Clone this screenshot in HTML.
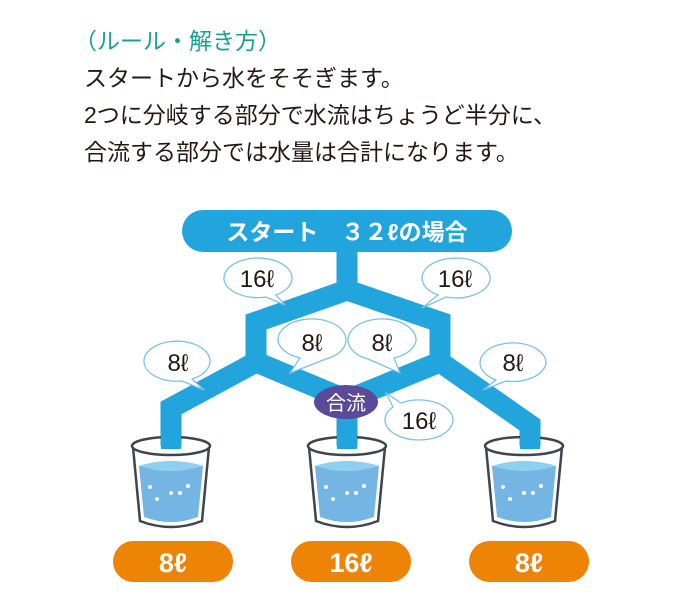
<!DOCTYPE html>
<html><head><meta charset="utf-8"><style>
html,body{margin:0;padding:0;background:#fff;width:700px;height:600px;overflow:hidden}
svg{display:block}
text{font-family:"Liberation Sans","Noto Sans CJK JP",sans-serif}
</style></head><body>
<svg width="700" height="600" viewBox="0 0 700 600">
<g font-size="23">
<text x="74" y="49" fill="#17a196">（ルール・解き方）</text>
<text x="84" y="86" fill="#231815">スタートから水をそそぎます。</text>
<text x="84" y="123" fill="#231815">2つに分岐する部分で水流はちょうど半分に、</text>
<text x="84" y="160" fill="#231815">合流する部分では水量は合計になります。</text>
</g>
<g fill="none" stroke="#22a4dc" stroke-width="21" stroke-linejoin="miter" stroke-miterlimit="10">
<polyline points="347,250 347,290 256,322 256,362 171,408 171,446"/>
<polyline points="347,290 440,322 440,362 530,425 530,446"/>
<polyline points="256,362 347,400 440,362"/>
<line x1="347" y1="400" x2="347" y2="446"/>
</g>
<rect x="182" y="210" width="330" height="42" rx="21" fill="#22a4dc"/>
<text x="347" y="240" font-size="23" font-weight="bold" fill="#fff" text-anchor="middle">スタート　３２ℓの場合</text>
<g fill="#fff" stroke="#7cc0e8" stroke-width="1.3">
<path d="M224,278 a34,20 0 1,1 52,17 L285,305 L266,297 a34,20 0 0,1 -42,-17z"/>
<path d="M490,278 a34,20 0 1,0 -52,17 L422,308 L446,297 a34,20 0 0,0 44,-17z"/>
<path d="M144,362 a33,20 0 1,1 48,17 L204,390 L182,381 a33,20 0 0,1 -38,-19z"/>
<path d="M278,341 a34,21 0 1,1 48,18 L290,373 L300,358 a34,21 0 0,1 -22,-17z"/>
<path d="M416,341 a34,21 0 1,0 -48,18 L400,373 L394,358 a34,21 0 0,0 22,-17z"/>
<path d="M546,363 a33,20 0 1,0 -50,17 L483,390 L506,381 a33,20 0 0,0 40,-18z"/>
<path d="M385,420 a34,20 0 1,0 16,-17 L386,393 L393,407 a34,20 0 0,0 -8,13z"/>
</g>
<g font-size="24" fill="#231815" text-anchor="middle">
<text x="257" y="287">16ℓ</text>
<text x="455" y="287">16ℓ</text>
<text x="178" y="371">8ℓ</text>
<text x="312" y="351">8ℓ</text>
<text x="382" y="351">8ℓ</text>
<text x="513" y="371">8ℓ</text>
<text x="419" y="429">16ℓ</text>
</g>
<ellipse cx="346" cy="402" rx="32" ry="17" fill="#5b4a9a"/>
<text x="346" y="410" font-size="20" fill="#fff" text-anchor="middle">合流</text>
<g>
<g transform="translate(171,0)">
<path d="M-38,447 L-31,521 Q0,533 31,521 L38,447" fill="none" stroke="#3d4650" stroke-width="2.5"/>
<path d="M-32,466 Q0,456 32,466 L27,517 Q0,527 -27,517 Z" fill="#74b5e3"/>
<path d="M-32,466 Q0,456 32,466 Q0,476 -32,466Z" fill="#8fcff0"/>
<ellipse cx="0" cy="446" rx="39" ry="9" fill="none" stroke="#3d4650" stroke-width="2.5"/>
<rect x="-10" y="420" width="20" height="29" fill="#22a4dc"/>
<g fill="#fff"><circle cx="-21" cy="487" r="2"/><circle cx="-14" cy="499" r="2"/><circle cx="0" cy="493" r="2"/><circle cx="9" cy="493" r="2"/><circle cx="17" cy="486" r="2"/></g>
</g>
<g transform="translate(347,0)">
<path d="M-38,447 L-31,521 Q0,533 31,521 L38,447" fill="none" stroke="#3d4650" stroke-width="2.5"/>
<path d="M-32,466 Q0,456 32,466 L27,517 Q0,527 -27,517 Z" fill="#74b5e3"/>
<path d="M-32,466 Q0,456 32,466 Q0,476 -32,466Z" fill="#8fcff0"/>
<ellipse cx="0" cy="446" rx="39" ry="9" fill="none" stroke="#3d4650" stroke-width="2.5"/>
<rect x="-10" y="420" width="20" height="29" fill="#22a4dc"/>
<g fill="#fff"><circle cx="-21" cy="487" r="2"/><circle cx="-14" cy="499" r="2"/><circle cx="0" cy="493" r="2"/><circle cx="9" cy="493" r="2"/><circle cx="17" cy="486" r="2"/></g>
</g>
<g transform="translate(524,0)">
<path d="M-38,447 L-31,521 Q0,533 31,521 L38,447" fill="none" stroke="#3d4650" stroke-width="2.5"/>
<path d="M-32,466 Q0,456 32,466 L27,517 Q0,527 -27,517 Z" fill="#74b5e3"/>
<path d="M-32,466 Q0,456 32,466 Q0,476 -32,466Z" fill="#8fcff0"/>
<ellipse cx="0" cy="446" rx="39" ry="9" fill="none" stroke="#3d4650" stroke-width="2.5"/>
<rect x="-4" y="420" width="20" height="29" fill="#22a4dc"/>
<g fill="#fff"><circle cx="-21" cy="487" r="2"/><circle cx="-14" cy="499" r="2"/><circle cx="0" cy="493" r="2"/><circle cx="9" cy="493" r="2"/><circle cx="17" cy="486" r="2"/></g>
</g>
</g>
<g fill="#ee8406">
<rect x="113" y="541" width="120" height="41" rx="20.5"/>
<rect x="291" y="541" width="120" height="41" rx="20.5"/>
<rect x="469" y="541" width="120" height="41" rx="20.5"/>
</g>
<g font-size="27" font-weight="bold" fill="#fff" text-anchor="middle">
<text x="173" y="572">8ℓ</text>
<text x="351" y="572">16ℓ</text>
<text x="529" y="572">8ℓ</text>
</g>
</svg>
</body></html>
